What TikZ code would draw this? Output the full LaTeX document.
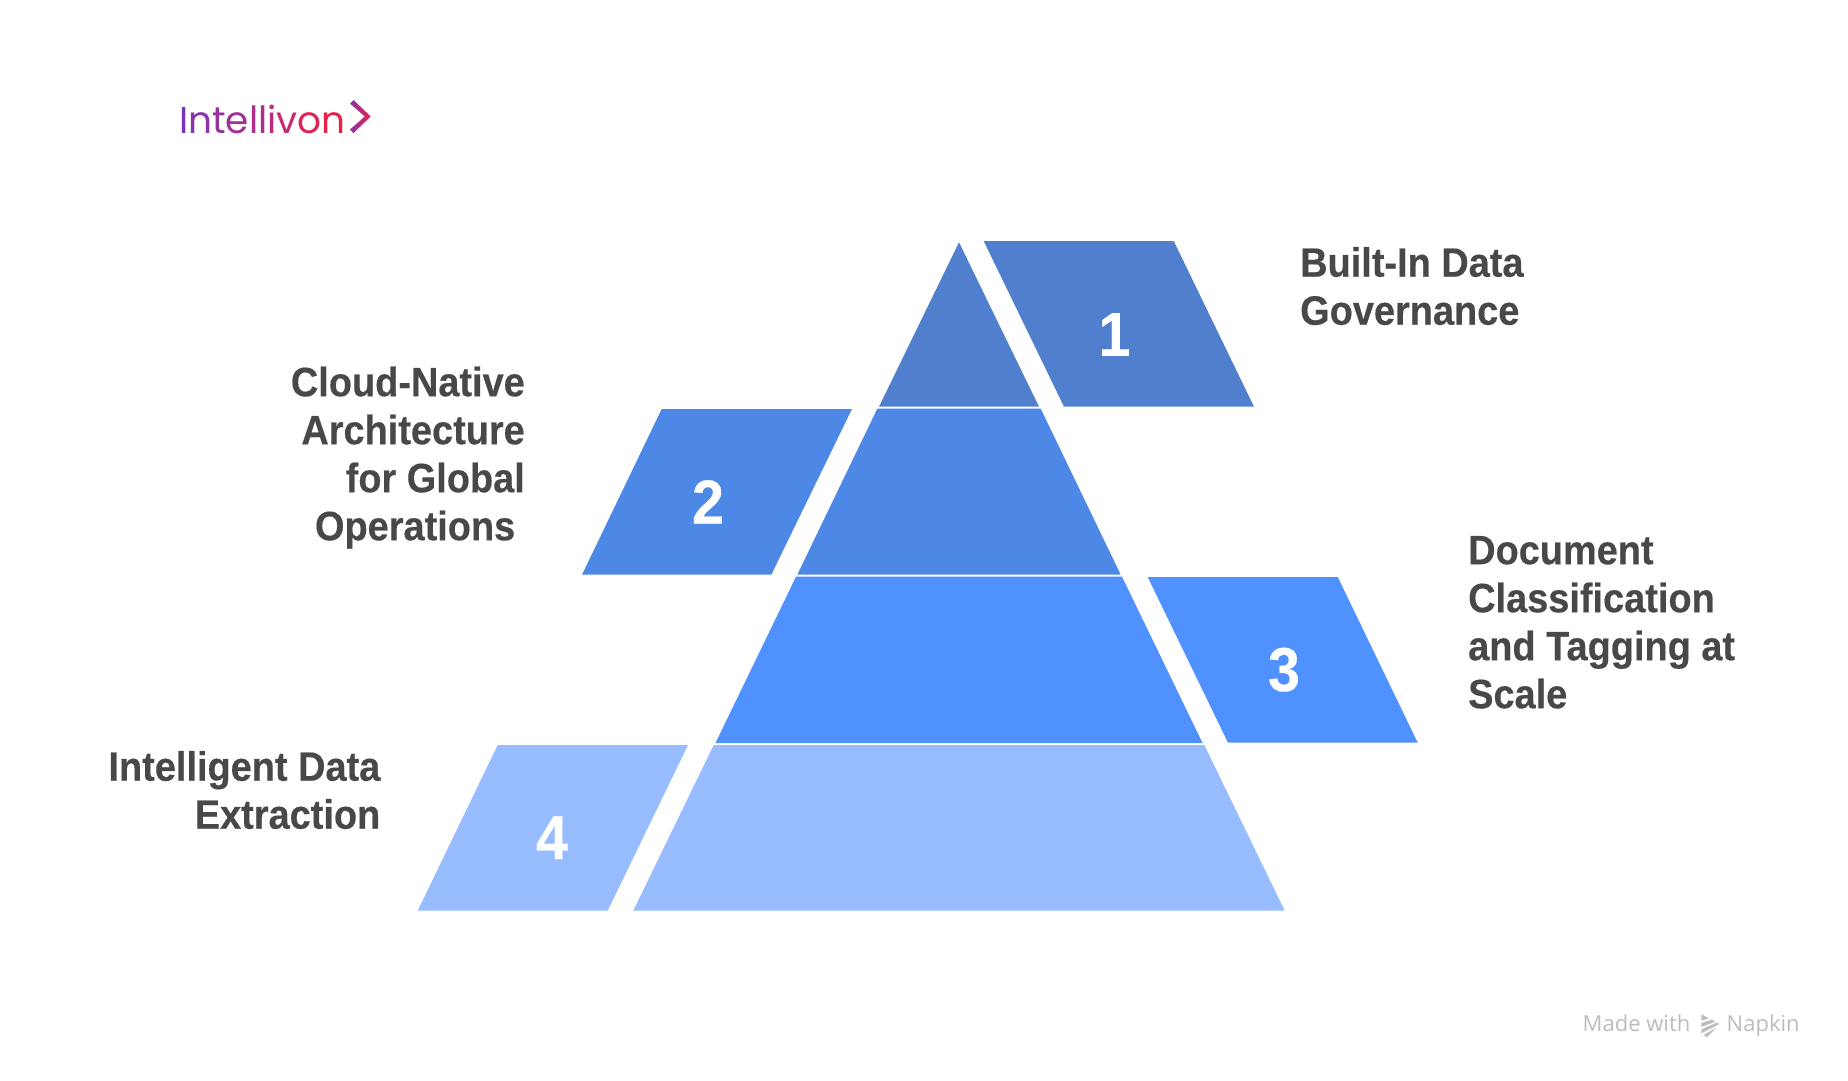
\documentclass[tikz,border=0pt]{standalone}
\usepackage{fontspec}
\setmainfont{Liberation Sans}
\newfontfamily\lblfont[FakeStretch=0.925,BoldFeatures={FakeBold=0.35}]{Liberation Sans}
\newfontfamily\logofont{Poppins}
\newfontfamily\markfont{Open Sans}
\definecolor{tierA}{HTML}{5080CD}
\definecolor{tierB}{HTML}{4E88E7}
\definecolor{tierC}{HTML}{4F91FF}
\definecolor{tierD}{HTML}{97BCFF}
\definecolor{labelgrey}{HTML}{484848}
\definecolor{markgrey}{HTML}{BDBDBD}
\definecolor{lgA}{HTML}{7A36B2}
\definecolor{lgB}{HTML}{8A34AA}
\definecolor{lgC}{HTML}{96329F}
\definecolor{lgD}{HTML}{A23096}
\definecolor{lgE}{HTML}{AE2E8C}
\definecolor{lgF}{HTML}{BC2B80}
\definecolor{lgG}{HTML}{CA2872}
\definecolor{lgH}{HTML}{D62664}
\definecolor{lgI}{HTML}{E02356}
\definecolor{lgJ}{HTML}{E8204A}
\tikzset{
  lbl/.style={inner sep=0pt,text=labelgrey,font=\lblfont\bfseries\fontsize{41}{48}\selectfont},
  lblL/.style={lbl,anchor=north west,align=left},
  lblR/.style={lbl,anchor=north east,align=right},
  num/.style={inner sep=0pt,anchor=base,text=white,font=\lblfont\bfseries\fontsize{62}{62}\selectfont},
  wmark/.style={inner sep=0pt,anchor=base west,text=markgrey,font=\markfont\fontsize{22}{22}\selectfont},
  logotext/.style={inner sep=0pt,anchor=base west,font=\logofont\fontsize{37.4}{38}\selectfont}
}
\newcommand{\capstrut}{\rule{0pt}{40pt}}
\begin{document}
\begin{tikzpicture}[x=1pt,y=-1pt]
\useasboundingbox[fill=white] (0,0) rectangle (1848,1080);
% pyramid tiers
\fill[tierA] (959,242.3) -- (1039,406.7) -- (879,406.7) -- cycle;
\fill[tierB] (877.3,408.7) -- (1040.7,408.7) -- (1120.7,574.7) -- (797.3,574.7) -- cycle;
\fill[tierC] (796,576.7) -- (1122,576.7) -- (1202.5,743) -- (715.5,743) -- cycle;
\fill[tierD] (713.7,745) -- (1204.3,745) -- (1284.7,910.7) -- (633.3,910.7) -- cycle;
% side panels
\fill[tierA] (983.7,241) -- (1173.7,241) -- (1254,406.7) -- (1064,406.7) -- cycle;
\fill[tierB] (661.7,409) -- (852,409) -- (771.3,574.7) -- (582,574.7) -- cycle;
\fill[tierC] (1147.7,577) -- (1337.7,577) -- (1417.7,742.7) -- (1228,742.7) -- cycle;
\fill[tierD] (497.7,745) -- (688,745) -- (607.7,910.7) -- (417.7,910.7) -- cycle;
% numbers
\node[num] (n1) at (1114.5,355.8) {1};
\node[num] (n2) at (708,523.5) {2};
\node[num] (n3) at (1284,691) {3};
\node[num] (n4) at (552,859) {4};
% labels
\node[lblL] (l1) at (1300,236.5) {\capstrut Built-In Data\\Governance};
\node[lblR] (l2) at (525,356) {\capstrut Cloud-Native\\Architecture\\for Global\\Operations\hspace*{9.6pt}};
\node[lblL] (l3) at (1468,524) {\capstrut Document\\Classification\\and Tagging at\\Scale};
\node[lblR] (l4) at (380.5,740.5) {\capstrut Intelligent Data\\Extraction};
% logo
\node[logotext] (logo) at (179,133.6) {\textcolor{lgA}{I}\textcolor{lgB}{n}\textcolor{lgC}{t}\textcolor{lgD}{e}\textcolor{lgE}{l}\textcolor{lgE}{l}\textcolor{lgF}{i}\textcolor{lgG}{v}\textcolor{lgI}{o}\textcolor{lgJ}{n}};
\shade[left color=lgB,right color=lgJ,shading angle=90]
  (350,103.5) -- (353.5,100) -- (370.7,116.5) -- (353.5,133) -- (350,129.5) -- (364.8,116.5) -- cycle;
% watermark
\node[wmark] (made) at (1582.5,1031.7) {Made with};
\node[wmark] (napkin) at (1726.5,1031.7) {Napkin};
\begin{scope}[shift={(1560,1000)},x=0.3333pt,y=-0.3333pt]
\fill[markgrey] (424,42) -- (446,55) -- (424,62) -- cycle;
\fill[markgrey] (424,69) -- (456,59) -- (466,65) -- (424,81) -- cycle;
\fill[markgrey] (424,88) -- (470,68) -- (478,72) -- (424,100) -- cycle;
\fill[markgrey] (432,104) -- (468,84) -- (440,112) -- cycle;
\end{scope}
\end{tikzpicture}
\end{document}
